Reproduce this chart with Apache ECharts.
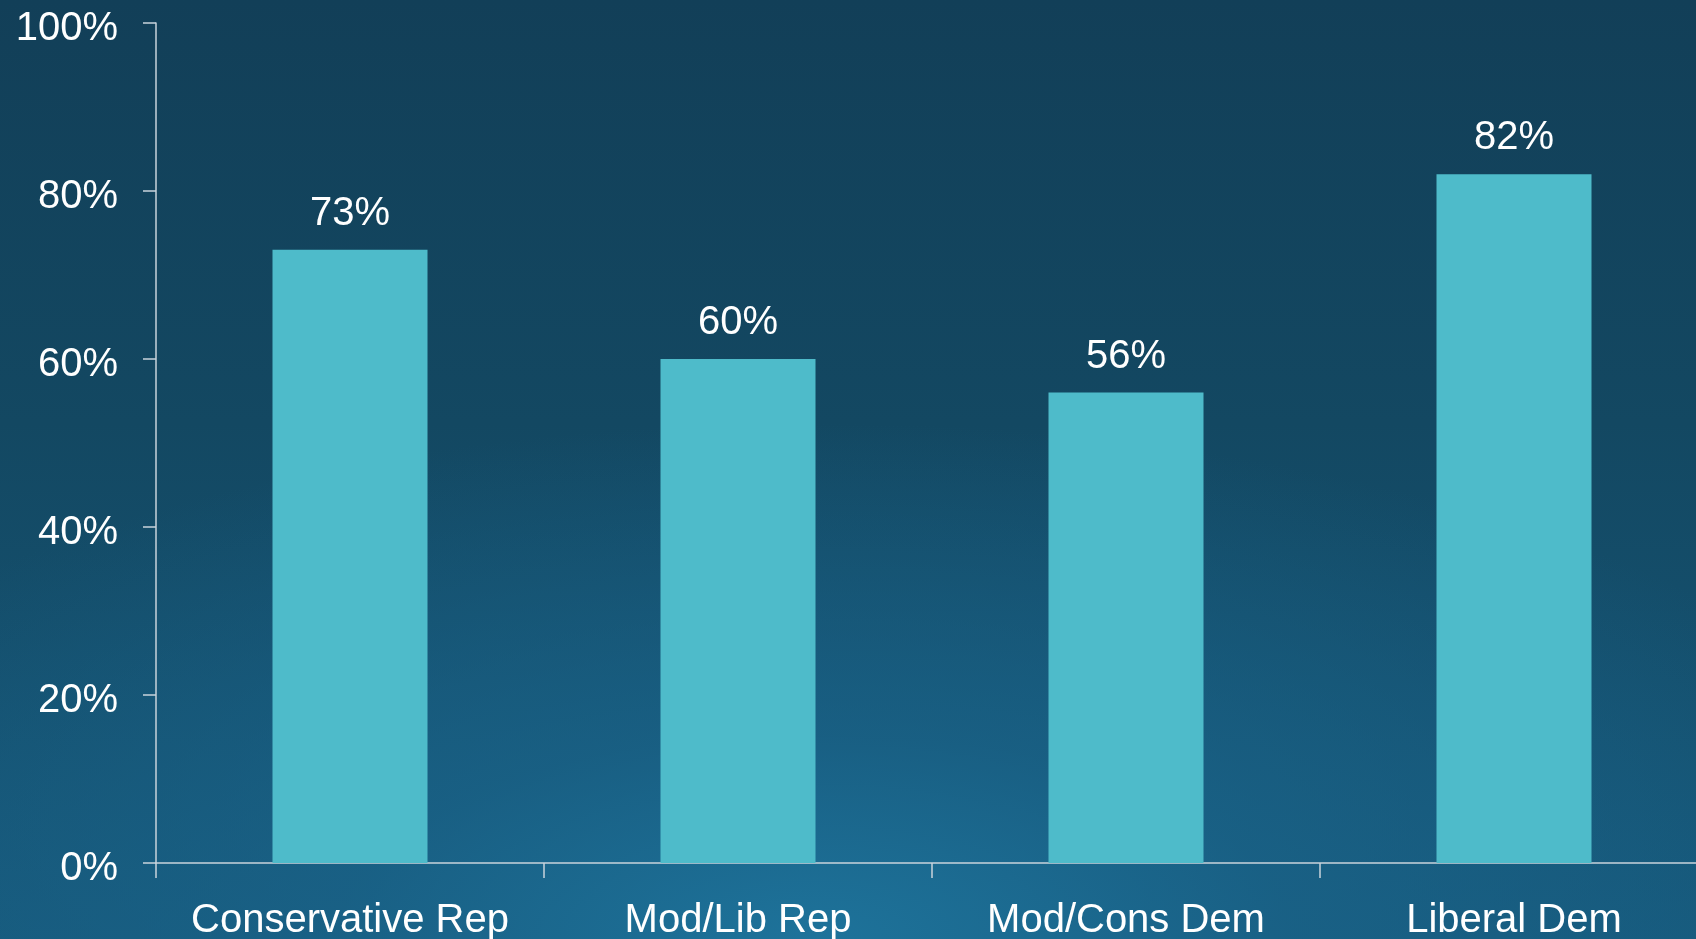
<!DOCTYPE html>
<html>
<head>
<meta charset="utf-8">
<title>Share by ideology</title>
<script src="https://cdn.jsdelivr.net/npm/echarts@6/dist/echarts.min.js"></script>
<style>
  html, body { margin: 0; padding: 0; width: 1696px; height: 939px; overflow: hidden; }
  #chart {
    width: 1696px; height: 939px;
    background:
      radial-gradient(ellipse 70% 55% at 48% 100%, rgba(30,116,156,0.95) 0%, rgba(26,100,138,0.7) 40%, rgba(20,80,112,0) 100%),
      linear-gradient(180deg, #123f58 0%, #134862 45%, #16587a 100%);
  }
</style>
</head>
<body>
<div id="chart"></div>
<script>
// Categories and percentages
const categories = ['Conservative Rep', 'Mod/Lib Rep', 'Mod/Cons Dem', 'Liberal Dem'];
const values = [73, 60, 56, 82];
const yTicks = { min: 0, max: 100, interval: 20 };

const chart = echarts.init(document.getElementById('chart'), null, { renderer: 'canvas' });
const font = 'Liberation Sans, Arial, sans-serif';
const axisColor = '#c9d3db';

chart.setOption({
  backgroundColor: 'transparent',
  animation: false,
  // plot area runs slightly past the right edge of the canvas
  grid: { left: 156, width: 1552, top: 23, height: 840, containLabel: false, outerBoundsMode: 'none' },
  xAxis: {
    type: 'category',
    data: categories,
    axisLine: { show: true, lineStyle: { color: axisColor, width: 1.5 } },
    axisTick: { show: true, alignWithLabel: false, length: 15, lineStyle: { color: axisColor, width: 1.5 } },
    axisLabel: { color: '#ffffff', fontSize: 40, fontFamily: font, margin: 38, interval: 0 },
    splitLine: { show: false }
  },
  yAxis: {
    type: 'value',
    min: yTicks.min, max: yTicks.max, interval: yTicks.interval,
    axisLine: { show: true, lineStyle: { color: axisColor, width: 1.5 } },
    axisTick: { show: true, length: 13, lineStyle: { color: axisColor, width: 1.5 } },
    axisLabel: {
      color: '#ffffff', fontSize: 40, fontFamily: font, margin: 38,
      verticalAlign: 'top', lineHeight: 40, padding: [-14, 0, 0, 0],
      formatter: '{value}%'
    },
    splitLine: { show: false }
  },
  series: [{
    type: 'bar',
    data: values,
    barWidth: 155,
    itemStyle: { color: '#4ebbca' },
    label: {
      show: true, position: 'top', distance: 16,
      color: '#ffffff', fontSize: 40, fontFamily: font,
      formatter: '{c}%'
    }
  }]
});
</script>
</body>
</html>
